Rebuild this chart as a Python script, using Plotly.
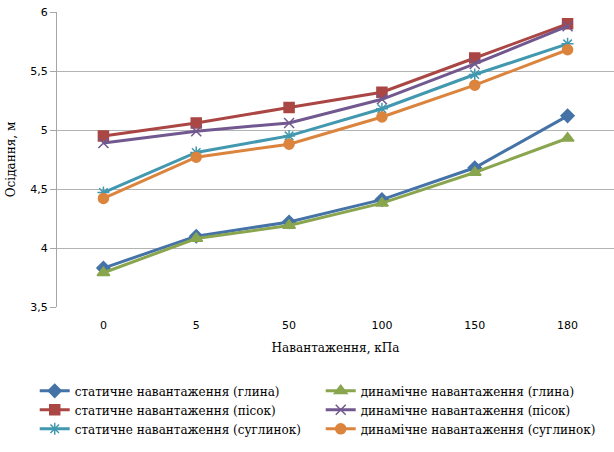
import plotly.graph_objects as go

categories = ["0", "5", "50", "100", "150", "180"]
static_clay = [3.83, 4.10, 4.22, 4.41, 4.68, 5.12]
dynamic_clay = [3.79, 4.08, 4.19, 4.38, 4.64, 4.93]
static_sand = [4.95, 5.06, 5.19, 5.32, 5.61, 5.90]
dynamic_sand = [4.89, 4.99, 5.06, 5.26, 5.56, 5.88]
static_loam = [4.47, 4.81, 4.95, 5.18, 5.47, 5.73]
dynamic_loam = [4.42, 4.77, 4.88, 5.11, 5.38, 5.68]
y_ticks = [3.5, 4, 4.5, 5, 5.5, 6]
y_tick_labels = ["3,5", "4", "4,5", "5", "5,5", "6"]

series = [
    ("статичне навантаження (глина)", static_clay, "#4572A7", "diamond", 10),
    ("динамічне навантаження (глина)", dynamic_clay, "#89A54E", "triangle-up", 11),
    ("статичне навантаження (пісок)", static_sand, "#AA4643", "square", 10),
    ("динамічне навантаження (пісок)", dynamic_sand, "#71588F", "x-thin-open", 10),
    ("статичне навантаження (суглинок)", static_loam, "#4198AF", "asterisk-open", 10),
    ("динамічне навантаження (суглинок)", dynamic_loam, "#DB843D", "circle", 10),
]

SERIF = "DejaVu Serif"

fig = go.Figure()
for name, vals, color, sym, size in series:
    fig.add_trace(go.Scatter(
        x=categories, y=vals, name=name, mode="lines+markers",
        line=dict(color=color, width=3),
        marker=dict(symbol=sym, size=size, color=color,
                    line=dict(color=color, width=1.5)),
    ))

fig.update_layout(
    width=614, height=452,
    margin=dict(l=57, r=0, t=12, b=145),
    plot_bgcolor="white", paper_bgcolor="white",
    showlegend=True,
    legend=dict(
        orientation="h", x=-0.04, xanchor="left", y=-0.235, yanchor="top",
        entrywidth=241, entrywidthmode="pixels",
        font=dict(family=SERIF, size=12, color="#000000"),
        itemwidth=30, tracegroupgap=0,
    ),
    xaxis=dict(
        type="category", showgrid=False, showline=False, zeroline=False,
        ticks="", ticklabelstandoff=10,
        tickfont=dict(family="DejaVu Sans", size=11, color="#000000"),
        title=dict(text="Навантаження, кПа", standoff=12,
                   font=dict(family=SERIF, size=12, color="#000000")),
        range=[-0.5, 5.5],
    ),
    yaxis=dict(
        range=[3.5, 6], tickmode="array", tickvals=y_ticks, ticktext=y_tick_labels,
        showgrid=True, gridcolor="#b3b3b3", gridwidth=1,
        showline=True, linecolor="#a6a6a6", linewidth=1,
        ticks="outside", ticklen=6, tickcolor="#a6a6a6",
        zeroline=False,
        tickfont=dict(family="DejaVu Sans", size=11, color="#000000"),
        title=dict(text="Осідання, м", standoff=12,
                   font=dict(family=SERIF, size=12, color="#000000")),
    ),
)

fig.write_html("out.html")
